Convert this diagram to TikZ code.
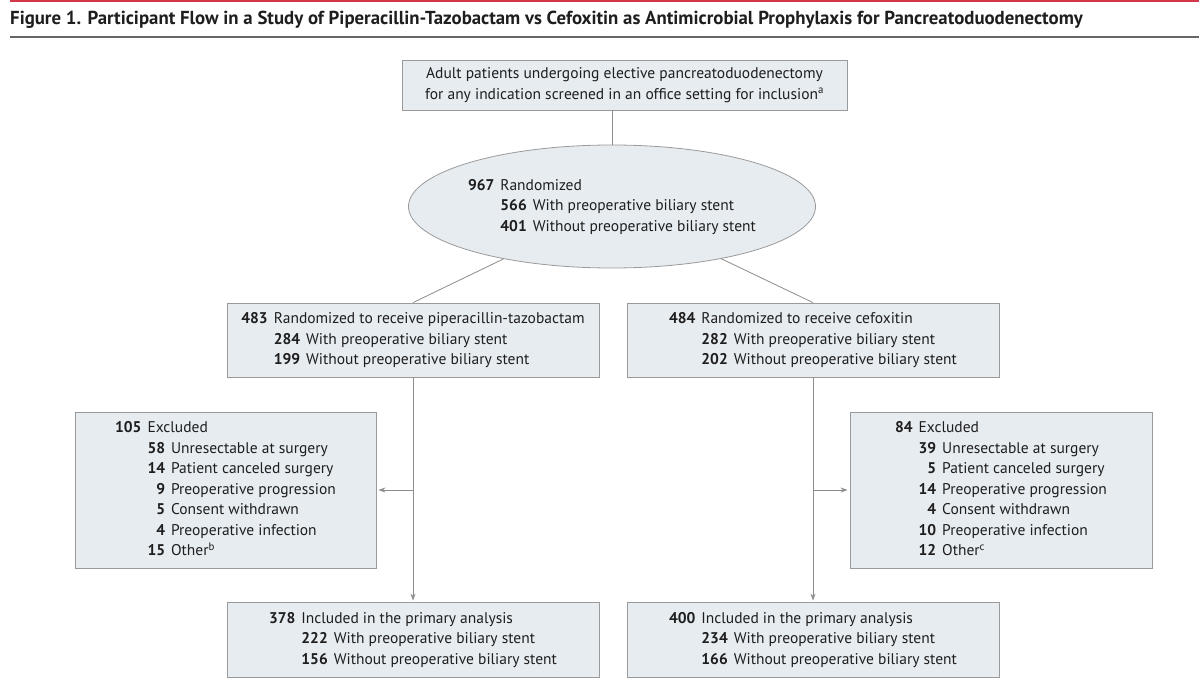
\documentclass[tikz,border=0pt]{standalone}
\usepackage{fontspec}
\setmainfont{PT Sans}
\usepackage{tikz}
\usetikzlibrary{arrows.meta, positioning, shapes.geometric}
\usepackage{xcolor}
\definecolor{boxfill}{HTML}{E7ECF1}
\definecolor{boxline}{HTML}{9A9A9A}
\definecolor{flowline}{HTML}{8C8C8C}
\definecolor{jamared}{HTML}{D2384A}
\definecolor{titlerule}{HTML}{666666}
\definecolor{txt}{HTML}{1E1E1E}

\begin{document}
\begin{tikzpicture}[x=1pt,y=-1pt,>={Stealth[length=7pt,width=5pt]},shorten >=1pt,
    font=\fontsize{15.5}{20.5}\selectfont,text=txt]
  \tikzstyle{flowbox}=[rectangle,draw=boxline,fill=boxfill,inner sep=0pt,line width=0.8pt]
  \tikzstyle{flowlink}=[color=flowline,line width=0.8pt]

  \useasboundingbox (0,0) rectangle (1200,698);

  % title and rules
  \draw[jamared,line width=2pt] (10,1) -- (1200,1);
  \node[anchor=base west,inner sep=0pt,font=\fontsize{18.8}{22}\selectfont\bfseries] (title) at (10,25)
    {Figure 1. Participant Flow in a Study of Piperacillin-Tazobactam vs Cefoxitin as Antimicrobial Prophylaxis for Pancreatoduodenectomy};
  \draw[titlerule,line width=2pt] (10,37) -- (1200,37);

  \node[flowbox,minimum width=445pt,minimum height=50pt,align=center] (screen) at (624.5,85)
    {Adult patients undergoing elective pancreatoduodenectomy\\
     for any indication screened in an office setting for inclusion\textsuperscript{a}};

  \node[ellipse,draw=boxline,fill=boxfill,line width=0.8pt,inner sep=0pt,
        minimum width=359pt,minimum height=123pt] (rand) at (612,206.5)
    {\begin{tabular}{@{}r@{\hspace{6pt}}r@{\hspace{6pt}}l@{}}
      \textbf{967} & \multicolumn{2}{@{}l@{}}{Randomized}\\
       & \textbf{566} & With preoperative biliary stent\\
       & \textbf{401} & Without preoperative biliary stent
     \end{tabular}};

  \node[flowbox,minimum width=372pt,minimum height=74pt] (pip) at (413,340)
    {\begin{tabular}{@{}r@{\hspace{6pt}}r@{\hspace{6pt}}l@{}}
      \textbf{483} & \multicolumn{2}{@{}l@{}}{Randomized to receive piperacillin-tazobactam}\\
       & \textbf{284} & With preoperative biliary stent\\
       & \textbf{199} & Without preoperative biliary stent
     \end{tabular}};
  \node[flowbox,minimum width=372pt,minimum height=74pt] (cef) at (813,340)
    {\begin{tabular}{@{}r@{\hspace{6pt}}r@{\hspace{6pt}}l@{}}
      \textbf{484} & \multicolumn{2}{@{}l@{}}{Randomized to receive cefoxitin}\\
       & \textbf{282} & With preoperative biliary stent\\
       & \textbf{202} & Without preoperative biliary stent
     \end{tabular}};

  \node[flowbox,minimum width=301pt,minimum height=156pt] (ex_pip) at (225.5,490)
    {\begin{tabular}{@{}r@{\hspace{6pt}}r@{\hspace{6pt}}l@{}}
      \textbf{105} & \multicolumn{2}{@{}l@{}}{Excluded}\\
       & \textbf{58} & Unresectable at surgery\\
       & \textbf{14} & Patient canceled surgery\\
       & \textbf{9} & Preoperative progression\\
       & \textbf{5} & Consent withdrawn\\
       & \textbf{4} & Preoperative infection\\
       & \textbf{15} & Other\textsuperscript{b}
     \end{tabular}};
  \node[flowbox,minimum width=302pt,minimum height=156pt] (ex_cef) at (1001,490)
    {\begin{tabular}{@{}r@{\hspace{6pt}}r@{\hspace{6pt}}l@{}}
      \textbf{84} & \multicolumn{2}{@{}l@{}}{Excluded}\\
       & \textbf{39} & Unresectable at surgery\\
       & \textbf{5} & Patient canceled surgery\\
       & \textbf{14} & Preoperative progression\\
       & \textbf{4} & Consent withdrawn\\
       & \textbf{10} & Preoperative infection\\
       & \textbf{12} & Other\textsuperscript{c}
     \end{tabular}};

  \node[flowbox,minimum width=372pt,minimum height=75pt] (an_pip) at (413,639.5)
    {\begin{tabular}{@{}r@{\hspace{6pt}}r@{\hspace{6pt}}l@{}}
      \textbf{378} & \multicolumn{2}{@{}l@{}}{Included in the primary analysis}\\
       & \textbf{222} & With preoperative biliary stent\\
       & \textbf{156} & Without preoperative biliary stent
     \end{tabular}};
  \node[flowbox,minimum width=372pt,minimum height=75pt] (an_cef) at (813,639.5)
    {\begin{tabular}{@{}r@{\hspace{6pt}}r@{\hspace{6pt}}l@{}}
      \textbf{400} & \multicolumn{2}{@{}l@{}}{Included in the primary analysis}\\
       & \textbf{234} & With preoperative biliary stent\\
       & \textbf{166} & Without preoperative biliary stent
     \end{tabular}};

  \path[flowlink]
  (screen.south -| rand.north) edge [shorten >=0pt] (rand.north)
  (rand) edge [shorten >=0pt] (pip.north)
  (rand) edge [shorten >=0pt] (cef.north)
  ;
  \path[flowlink,->]
  (pip.south) edge (an_pip.north)
  (cef.south) edge (an_cef.north)
  (pip.south |- ex_pip.east) edge [shorten >=2pt] (ex_pip.east)
  (cef.south |- ex_cef.west) edge [shorten >=2pt] (ex_cef.west)
  ;
\end{tikzpicture}
\end{document}
